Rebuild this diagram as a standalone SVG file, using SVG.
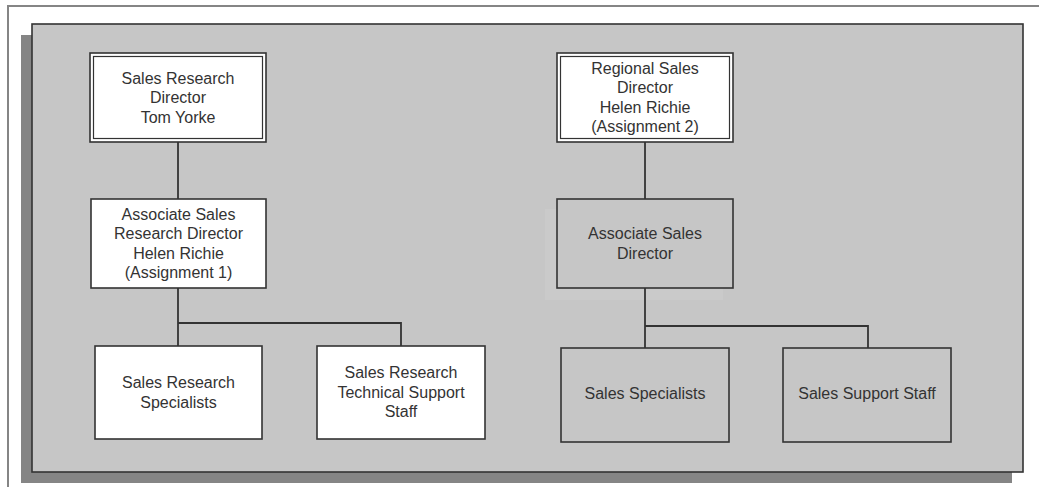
<svg xmlns="http://www.w3.org/2000/svg" width="1039" height="487" viewBox="0 0 1039 487">
<style>
.frame{fill:none;stroke:#858585;stroke-width:2}
.box{fill:#ffffff;stroke:#333333;stroke-width:1.6}
.gbox{fill:#c6c6c6;stroke:#333333;stroke-width:1.6}
.inner{fill:none;stroke:#333333;stroke-width:1.2}
.conn{fill:none;stroke:#333333;stroke-width:1.8}
text{font-family:"Liberation Sans",Arial,sans-serif;font-size:16px;fill:#333333;text-anchor:middle}
</style>
<rect x="0" y="0" width="1039" height="487" fill="#ffffff"/>
<path class="frame" d="M8,487 V6 H1039"/>
<rect x="21" y="35" width="991" height="448" fill="#858585"/>
<rect x="32" y="24" width="991" height="448" fill="#c6c6c6" stroke="#333333" stroke-width="1.6"/>
<g id="n-srd">
<rect class="box" x="90" y="53" width="176" height="89"/>
<rect class="inner" x="93.5" y="56.5" width="169" height="82"/>
<text x="178" y="83.5">Sales Research</text>
<text x="178" y="103">Director</text>
<text x="178" y="122.5">Tom Yorke</text>
</g>
<g id="n-rsd">
<rect class="box" x="557" y="53" width="176" height="89"/>
<rect class="inner" x="560.5" y="56.5" width="169" height="82"/>
<text x="645" y="73.5">Regional Sales</text>
<text x="645" y="93">Director</text>
<text x="645" y="112.5">Helen Richie</text>
<text x="645" y="132">(Assignment 2)</text>
</g>
<g id="n-asrd">
<rect class="box" x="91" y="199" width="175" height="89"/>
<text x="178.5" y="219.5">Associate Sales</text>
<text x="178.5" y="239">Research Director</text>
<text x="178.5" y="258.5">Helen Richie</text>
<text x="178.5" y="278">(Assignment 1)</text>
</g>
<g id="n-asd">
<rect x="545" y="209" width="178" height="91" fill="#cacaca"/>
<rect class="gbox" x="557" y="199" width="176" height="89"/>
<text x="645" y="239">Associate Sales</text>
<text x="645" y="258.5">Director</text>
</g>
<g id="n-srs">
<rect class="box" x="95" y="346" width="167" height="93"/>
<text x="178.5" y="388">Sales Research</text>
<text x="178.5" y="407.5">Specialists</text>
</g>
<g id="n-srtss">
<rect class="box" x="317" y="346" width="168" height="93"/>
<text x="401" y="378">Sales Research</text>
<text x="401" y="397.5">Technical Support</text>
<text x="401" y="417">Staff</text>
</g>
<g id="n-ss">
<rect class="gbox" x="561" y="348" width="168" height="94"/>
<text x="645" y="399">Sales Specialists</text>
</g>
<g id="n-sss">
<rect class="gbox" x="783" y="348" width="168" height="94"/>
<text x="867" y="399">Sales Support Staff</text>
</g>
<g id="connectors">
<line class="conn" x1="178" y1="142" x2="178" y2="199"/>
<path class="conn" d="M178,288 V346 M178,323 H401 V346"/>
<line class="conn" x1="645" y1="142" x2="645" y2="199"/>
<path class="conn" d="M645,288 V348 M645,326 H868 V348"/>
</g>
</svg>
